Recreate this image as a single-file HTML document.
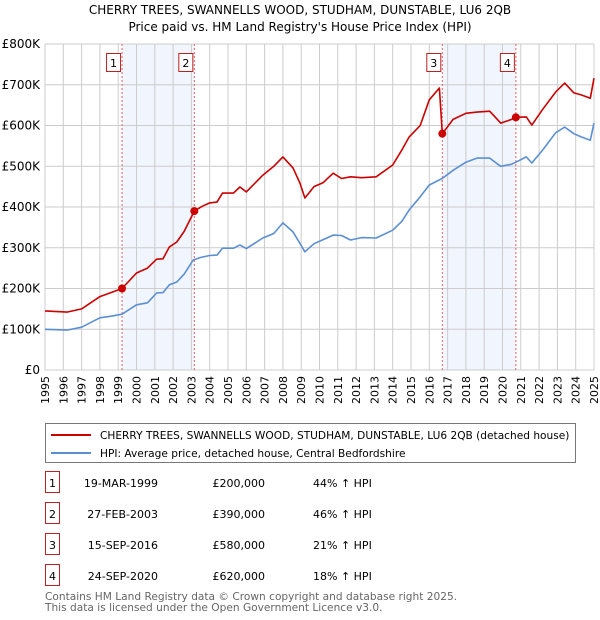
<!DOCTYPE html>
<html><head><meta charset="utf-8"><style>
body{margin:0;background:#fff;font-family:"Liberation Sans","DejaVu Sans",sans-serif;}
svg{display:block}
</style></head><body>
<svg width="600" height="620" xmlns="http://www.w3.org/2000/svg" font-family="DejaVu Sans, Liberation Sans, sans-serif">
<text x="300" y="14" text-anchor="middle" font-size="12" fill="#000">CHERRY TREES, SWANNELLS WOOD, STUDHAM, DUNSTABLE, LU6 2QB</text>
<text x="300" y="31" text-anchor="middle" font-size="12" fill="#000">Price paid vs. HM Land Registry's House Price Index (HPI)</text>
<g id="plot"></g>
<g>
<rect x="45.5" y="423.5" width="530" height="39" fill="#fff" stroke="#777"/>
<line x1="51" y1="435" x2="91" y2="435" stroke="#cc0000" stroke-width="2"/>
<text x="100" y="439" font-size="10.6">CHERRY TREES, SWANNELLS WOOD, STUDHAM, DUNSTABLE, LU6 2QB (detached house)</text>
<line x1="51" y1="453" x2="91" y2="453" stroke="#5b8fd4" stroke-width="2"/>
<text x="100" y="457" font-size="10.6">HPI: Average price, detached house, Central Bedfordshire</text>
</g>
<g id="table" font-size="11"></g>
<text x="45" y="600" font-size="10.6" fill="#666">Contains HM Land Registry data © Crown copyright and database right 2025.</text>
<text x="45" y="611" font-size="10.6" fill="#666">This data is licensed under the Open Government Licence v3.0.</text>
</svg>
<script>
const hpiYears=[1995,1996.2,1997,1998,1998.6,1999.21,2000,2000.6,2001.1,2001.45,2001.8,2002.2,2002.6,2003.1,2003.5,2004,2004.4,2004.7,2005.3,2005.65,2006,2006.9,2007.5,2008,2008.55,2008.93,2009.2,2009.7,2010.2,2010.75,2011.2,2011.7,2012.3,2013.1,2014,2014.5,2014.9,2015.5,2016,2016.7,2017.3,2018,2018.6,2019.3,2019.9,2020.5,2020.73,2021.3,2021.6,2022.2,2022.9,2023.4,2023.9,2024.3,2024.8,2025];
const hpiValues=[100,98,105,128,132,137,160,165,189,190,209,216,235,270,276,281,282,299,299,307,298,324,335,361,339,311,290,310,320,331,330,319,325,324,343,365,393,425,454,470,490,510,520,520,500,505,510,523,508,540,582,596,580,572,564,606];
const redYears=[1995,1996.2,1997,1998,1998.6,1999.21,2000,2000.6,2001.1,2001.45,2001.8,2002.2,2002.6,2003.16,2003.6,2004,2004.4,2004.7,2005.3,2005.65,2006,2006.9,2007.5,2008,2008.55,2008.93,2009.2,2009.7,2010.2,2010.75,2011.2,2011.7,2012.3,2013.1,2014,2014.5,2014.9,2015.5,2016,2016.55,2016.71,2017.3,2018,2018.6,2019.3,2019.9,2020.5,2020.73,2021.3,2021.6,2022.2,2022.9,2023.4,2023.9,2024.3,2024.8,2025];
const redValues=[145,142,150,180,190,200,238,250,272,273,302,314,340,390,402,410,412,434,434,449,437,478,500,523,496,459,422,450,460,483,470,474,472,474,503,540,572,600,663,692,580,615,630,633,635,606,615,620,621,601,640,682,704,680,675,667,716];
const tickVals=[0,100,200,300,400,500,600,700,800];
const tickLabels=["£0","£100K","£200K","£300K","£400K","£500K","£600K","£700K","£800K"];
const xYears=[1995,1996,1997,1998,1999,2000,2001,2002,2003,2004,2005,2006,2007,2008,2009,2010,2011,2012,2013,2014,2015,2016,2017,2018,2019,2020,2021,2022,2023,2024,2025];
const saleIds=["1","2","3","4"];
const saleYears=[1999.21,2003.16,2016.71,2020.73];
const saleValues=[200,390,580,620];
const saleDates=["19-MAR-1999","27-FEB-2003","15-SEP-2016","24-SEP-2020"];
const salePrices=["£200,000","£390,000","£580,000","£620,000"];
const salePcts=["44% ↑ HPI","46% ↑ HPI","21% ↑ HPI","18% ↑ HPI"];

const NS="http://www.w3.org/2000/svg";
const X0=45,X1=594,Y0=370,Y1=44;
const xs=y=>X0+(y-1995)/(2025-1995)*(X1-X0);
const ys=v=>Y0-v/800*(Y0-Y1);
const plot=document.getElementById('plot');
function mk(tag,attrs,parent){const e=document.createElementNS(NS,tag);for(const k in attrs)e.setAttribute(k,attrs[k]);(parent||plot).appendChild(e);return e;}
mk('rect',{x:X0,y:Y1,width:X1-X0,height:Y0-Y1,fill:'#fff'});
for(const [a,b] of [[0,1],[2,3]]){
 const r=mk('rect',{x:xs(saleYears[a]),y:Y1,width:xs(saleYears[b])-xs(saleYears[a]),height:Y0-Y1,fill:'#eef3fc',opacity:0.8});
 
 
}
xYears.forEach(y=>{
 const l=mk('line',{x1:xs(y),x2:xs(y),y1:Y1,y2:Y0,stroke:'#ccc','stroke-width':1});
 
 
 const t=mk('text',{x:0,y:0,'font-size':11,'text-anchor':'end',transform:`translate(${xs(y)+4},376) rotate(-90)`});
 t.textContent=y;
 
 
});
tickVals.forEach((v,i)=>{
 const l=mk('line',{x1:X0,x2:X1,y1:ys(v),y2:ys(v),stroke:'#ccc','stroke-width':1});
 
 
 const t=mk('text',{x:40,y:ys(v)+4,'font-size':12,'text-anchor':'end'});
 t.textContent=tickLabels[i];
 
 
});
mk('rect',{x:X0,y:Y1,width:X1-X0,height:Y0-Y1,fill:'none',stroke:'#ccc'});
saleYears.forEach((y,i)=>{
 const l=mk('line',{x1:xs(y),x2:xs(y),y1:Y1,y2:Y0,stroke:'#e06060','stroke-width':1,'stroke-dasharray':'2,2'});
 
 
 const b=mk('rect',{x:xs(y)-15.5,y:53.5,width:14,height:18,fill:'#fff',stroke:'#b22'});
 
 
 const t=mk('text',{x:xs(y)-8.5,y:67,'font-size':11,'text-anchor':'middle'});
 t.textContent=saleIds[i];
 
 
});
function path(xa,va,color,name){
 const d=xa.map((y,i)=>(i?'L':'M')+xs(y).toFixed(1)+','+ys(va[i]).toFixed(1)).join('');
 const p=mk('path',{d:d,fill:'none',stroke:color,'stroke-width':1.6,'stroke-linejoin':'round'});
 
 
}
path(hpiYears,hpiValues,'#5b8fd4','hpi-line');
path(redYears,redValues,'#cc0000','property-price-line');
saleYears.forEach((y,i)=>{
 const c=mk('circle',{cx:xs(y),cy:ys(saleValues[i]),r:4,fill:'#cc0000'});
 
 
});
const tb=document.getElementById('table');
saleIds.forEach((id,i)=>{
 const cy=483+i*31;
 const b=mk('rect',{x:45.5,y:cy-11.5,width:14,height:21,fill:'#fff',stroke:'#b22'},tb);
 
 
 const cols=[[52.5,id,'middle'],[158,saleDates[i],'end'],[265,salePrices[i],'end'],[313,salePcts[i],'start']];
 cols.forEach(c=>{
  const t=mk('text',{x:c[0],y:cy+4,'text-anchor':c[2]},tb);
  t.textContent=c[1];
  
  
 });
});
</script>
</body></html>
